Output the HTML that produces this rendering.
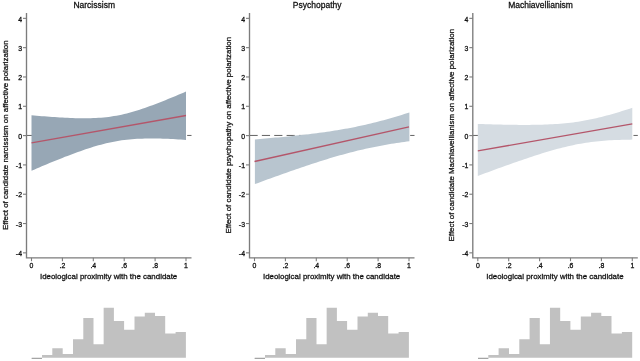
<!DOCTYPE html>
<html><head><meta charset="utf-8"><style>
html,body{margin:0;padding:0;background:#fff;width:640px;height:361px;overflow:hidden}
svg text{font-family:"Liberation Sans", sans-serif;fill:#111;stroke:#111;stroke-width:2.8px}
</style></head><body>
<svg width="640" height="361" viewBox="0 0 640 361" style="display:block;will-change:transform">
<rect width="640" height="361" fill="#fff"/>
<g transform="translate(0,0)">
<line x1="26.5" y1="135.45" x2="191.5" y2="135.45" stroke="#5a5a5a" stroke-width="0.95" stroke-dasharray="8.2 4.16"/>
<path d="M31.50,115.30 L34.08,115.52 L36.65,115.74 L39.23,115.95 L41.80,116.16 L44.38,116.36 L46.95,116.56 L49.52,116.75 L52.10,116.93 L54.67,117.10 L57.25,117.27 L59.83,117.43 L62.40,117.58 L64.97,117.71 L67.55,117.84 L70.12,117.95 L72.70,118.05 L75.28,118.13 L77.85,118.19 L80.42,118.24 L83.00,118.27 L85.57,118.27 L88.15,118.24 L90.72,118.19 L93.30,118.11 L95.88,118.00 L98.45,117.86 L101.03,117.67 L103.60,117.45 L106.17,117.18 L108.75,116.88 L111.33,116.52 L113.90,116.12 L116.48,115.67 L119.05,115.18 L121.62,114.64 L124.20,114.05 L126.78,113.42 L129.35,112.75 L131.93,112.03 L134.50,111.28 L137.07,110.50 L139.65,109.68 L142.22,108.83 L144.80,107.95 L147.38,107.04 L149.95,106.11 L152.53,105.17 L155.10,104.20 L157.68,103.21 L160.25,102.21 L162.82,101.19 L165.40,100.16 L167.97,99.12 L170.55,98.06 L173.12,97.00 L175.70,95.92 L178.28,94.84 L180.85,93.75 L183.42,92.65 L186.00,91.55 L186.00,139.95 L183.42,139.76 L180.85,139.58 L178.28,139.41 L175.70,139.25 L173.12,139.11 L170.55,138.97 L167.97,138.86 L165.40,138.75 L162.82,138.66 L160.25,138.59 L157.68,138.54 L155.10,138.50 L152.53,138.48 L149.95,138.48 L147.38,138.51 L144.80,138.56 L142.22,138.63 L139.65,138.73 L137.07,138.86 L134.50,139.02 L131.93,139.21 L129.35,139.44 L126.78,139.71 L124.20,140.01 L121.62,140.36 L119.05,140.75 L116.48,141.18 L113.90,141.65 L111.33,142.17 L108.75,142.72 L106.17,143.32 L103.60,143.96 L101.03,144.64 L98.45,145.35 L95.88,146.09 L93.30,146.87 L90.72,147.67 L88.15,148.50 L85.57,149.36 L83.00,150.23 L80.42,151.13 L77.85,152.05 L75.28,152.98 L72.70,153.93 L70.12,154.90 L67.55,155.88 L64.97,156.87 L62.40,157.88 L59.83,158.90 L57.25,159.93 L54.67,160.97 L52.10,162.02 L49.52,163.09 L46.95,164.16 L44.38,165.24 L41.80,166.34 L39.23,167.44 L36.65,168.55 L34.08,169.67 L31.50,170.80Z" fill="#97a7b5"/>
<line x1="31.5" y1="142.8" x2="186.0" y2="115.5" stroke="#b4566a" stroke-width="1.3"/>
<path d="M26.5,13.0 V257.85 H191.5" fill="none" stroke="#7c7c7c" stroke-width="1.35"/>
<line x1="23" y1="18.35" x2="26.5" y2="18.35" stroke="#7c7c7c" stroke-width="1.1"/>
<text transform="translate(22.00,21.55) scale(0.1000,0.1000)" text-anchor="end" font-size="69.0">4</text>
<line x1="23" y1="47.66" x2="26.5" y2="47.66" stroke="#7c7c7c" stroke-width="1.1"/>
<text transform="translate(22.00,50.86) scale(0.1000,0.1000)" text-anchor="end" font-size="69.0">3</text>
<line x1="23" y1="76.97" x2="26.5" y2="76.97" stroke="#7c7c7c" stroke-width="1.1"/>
<text transform="translate(22.00,80.17) scale(0.1000,0.1000)" text-anchor="end" font-size="69.0">2</text>
<line x1="23" y1="106.29" x2="26.5" y2="106.29" stroke="#7c7c7c" stroke-width="1.1"/>
<text transform="translate(22.00,109.49) scale(0.1000,0.1000)" text-anchor="end" font-size="69.0">1</text>
<line x1="23" y1="135.60" x2="26.5" y2="135.60" stroke="#7c7c7c" stroke-width="1.1"/>
<text transform="translate(22.00,138.80) scale(0.1000,0.1000)" text-anchor="end" font-size="69.0">0</text>
<line x1="23" y1="164.91" x2="26.5" y2="164.91" stroke="#7c7c7c" stroke-width="1.1"/>
<text transform="translate(22.00,168.11) scale(0.1000,0.1000)" text-anchor="end" font-size="69.0">-1</text>
<line x1="23" y1="194.22" x2="26.5" y2="194.22" stroke="#7c7c7c" stroke-width="1.1"/>
<text transform="translate(22.00,197.42) scale(0.1000,0.1000)" text-anchor="end" font-size="69.0">-2</text>
<line x1="23" y1="223.54" x2="26.5" y2="223.54" stroke="#7c7c7c" stroke-width="1.1"/>
<text transform="translate(22.00,226.74) scale(0.1000,0.1000)" text-anchor="end" font-size="69.0">-3</text>
<line x1="23" y1="252.85" x2="26.5" y2="252.85" stroke="#7c7c7c" stroke-width="1.1"/>
<text transform="translate(22.00,256.05) scale(0.1000,0.1000)" text-anchor="end" font-size="69.0">-4</text>
<line x1="31.50" y1="257.85" x2="31.50" y2="261.2" stroke="#7c7c7c" stroke-width="1.1"/>
<text transform="translate(31.50,267.80) scale(0.1000,0.1000)" text-anchor="middle" font-size="69.0">0</text>
<line x1="62.40" y1="257.85" x2="62.40" y2="261.2" stroke="#7c7c7c" stroke-width="1.1"/>
<text transform="translate(62.40,267.80) scale(0.1000,0.1000)" text-anchor="middle" font-size="69.0">.2</text>
<line x1="93.30" y1="257.85" x2="93.30" y2="261.2" stroke="#7c7c7c" stroke-width="1.1"/>
<text transform="translate(93.30,267.80) scale(0.1000,0.1000)" text-anchor="middle" font-size="69.0">.4</text>
<line x1="124.20" y1="257.85" x2="124.20" y2="261.2" stroke="#7c7c7c" stroke-width="1.1"/>
<text transform="translate(124.20,267.80) scale(0.1000,0.1000)" text-anchor="middle" font-size="69.0">.6</text>
<line x1="155.10" y1="257.85" x2="155.10" y2="261.2" stroke="#7c7c7c" stroke-width="1.1"/>
<text transform="translate(155.10,267.80) scale(0.1000,0.1000)" text-anchor="middle" font-size="69.0">.8</text>
<line x1="186.00" y1="257.85" x2="186.00" y2="261.2" stroke="#7c7c7c" stroke-width="1.1"/>
<text transform="translate(186.00,267.80) scale(0.1000,0.1000)" text-anchor="middle" font-size="69.0">1</text>
<text transform="translate(108.60,279.00) scale(0.1000,0.1000)" text-anchor="middle" font-size="79.0">Ideological proximity with the candidate</text>
<text transform="translate(8.00,135.20) rotate(-90) scale(0.1000,0.1000)" text-anchor="middle" font-size="79.0">Effect of candidate narcissism on affective polarization</text>
<text transform="translate(94.20,8.25) scale(0.1000,0.1000)" text-anchor="middle" font-size="85.0">Narcissism</text>
<path d="M31.7,358.8V357.8H42.0V358.8ZM42.0,357.8V354.9H52.3V357.8ZM52.3,357.8V348.2H62.7V357.8ZM62.7,357.8V354.1H73.0V357.8ZM73.0,357.8V339.2H83.3V357.8ZM83.3,357.8V318.1H93.5V357.8ZM93.5,357.8V344.3H103.65V357.8ZM103.65,357.8V307.8H113.9V357.8ZM113.9,357.8V321.1H124.1V357.8ZM124.1,357.8V329.7H134.5V357.8ZM134.5,357.8V316.4H144.8V357.8ZM144.8,357.8V312.7H155.0V357.8ZM155.0,357.8V316.0H165.2V357.8ZM165.2,357.8V333.4H175.6V357.8ZM175.6,357.8V331.9H185.9V357.8Z" fill="#c1c1c1"/>
<rect x="31.7" y="357.9" width="10.30" height="0.9" fill="#9a9a9a"/>
</g>
<g transform="translate(223.0,0)">
<line x1="26.5" y1="135.45" x2="191.5" y2="135.45" stroke="#5a5a5a" stroke-width="0.95" stroke-dasharray="8.2 4.16"/>
<path d="M31.90,139.40 L34.48,139.19 L37.05,138.97 L39.62,138.76 L42.20,138.54 L44.77,138.31 L47.35,138.09 L49.92,137.86 L52.50,137.62 L55.07,137.39 L57.65,137.14 L60.23,136.90 L62.80,136.65 L65.38,136.39 L67.95,136.13 L70.53,135.87 L73.10,135.60 L75.68,135.32 L78.25,135.04 L80.83,134.75 L83.40,134.45 L85.97,134.15 L88.55,133.84 L91.12,133.52 L93.70,133.19 L96.28,132.85 L98.85,132.50 L101.43,132.15 L104.00,131.78 L106.58,131.40 L109.15,131.01 L111.73,130.60 L114.30,130.19 L116.88,129.76 L119.45,129.32 L122.03,128.86 L124.60,128.39 L127.18,127.90 L129.75,127.40 L132.33,126.89 L134.90,126.35 L137.47,125.81 L140.05,125.24 L142.62,124.66 L145.20,124.06 L147.78,123.45 L150.35,122.82 L152.93,122.17 L155.50,121.51 L158.08,120.83 L160.65,120.14 L163.22,119.43 L165.80,118.71 L168.38,117.98 L170.95,117.23 L173.53,116.47 L176.10,115.70 L178.68,114.92 L181.25,114.12 L183.82,113.32 L186.40,112.50 L186.40,141.20 L183.82,141.55 L181.25,141.91 L178.68,142.27 L176.10,142.65 L173.53,143.04 L170.95,143.45 L168.38,143.86 L165.80,144.29 L163.22,144.74 L160.65,145.19 L158.08,145.66 L155.50,146.15 L152.93,146.65 L150.35,147.17 L147.78,147.70 L145.20,148.25 L142.62,148.82 L140.05,149.40 L137.47,150.00 L134.90,150.61 L132.33,151.24 L129.75,151.89 L127.18,152.55 L124.60,153.23 L122.03,153.92 L119.45,154.63 L116.88,155.35 L114.30,156.08 L111.73,156.83 L109.15,157.59 L106.58,158.36 L104.00,159.15 L101.43,159.94 L98.85,160.75 L96.28,161.57 L93.70,162.39 L91.12,163.23 L88.55,164.07 L85.97,164.92 L83.40,165.78 L80.83,166.65 L78.25,167.52 L75.68,168.40 L73.10,169.29 L70.53,170.18 L67.95,171.08 L65.38,171.98 L62.80,172.89 L60.23,173.81 L57.65,174.72 L55.07,175.64 L52.50,176.57 L49.92,177.50 L47.35,178.43 L44.77,179.37 L42.20,180.31 L39.62,181.25 L37.05,182.20 L34.48,183.15 L31.90,184.10Z" fill="#b8c5cf"/>
<line x1="31.5" y1="161.5" x2="186.0" y2="126.9" stroke="#b4566a" stroke-width="1.3"/>
<path d="M26.5,13.0 V257.85 H191.5" fill="none" stroke="#7c7c7c" stroke-width="1.35"/>
<line x1="23" y1="18.35" x2="26.5" y2="18.35" stroke="#7c7c7c" stroke-width="1.1"/>
<text transform="translate(22.00,21.55) scale(0.1000,0.1000)" text-anchor="end" font-size="69.0">4</text>
<line x1="23" y1="47.66" x2="26.5" y2="47.66" stroke="#7c7c7c" stroke-width="1.1"/>
<text transform="translate(22.00,50.86) scale(0.1000,0.1000)" text-anchor="end" font-size="69.0">3</text>
<line x1="23" y1="76.97" x2="26.5" y2="76.97" stroke="#7c7c7c" stroke-width="1.1"/>
<text transform="translate(22.00,80.17) scale(0.1000,0.1000)" text-anchor="end" font-size="69.0">2</text>
<line x1="23" y1="106.29" x2="26.5" y2="106.29" stroke="#7c7c7c" stroke-width="1.1"/>
<text transform="translate(22.00,109.49) scale(0.1000,0.1000)" text-anchor="end" font-size="69.0">1</text>
<line x1="23" y1="135.60" x2="26.5" y2="135.60" stroke="#7c7c7c" stroke-width="1.1"/>
<text transform="translate(22.00,138.80) scale(0.1000,0.1000)" text-anchor="end" font-size="69.0">0</text>
<line x1="23" y1="164.91" x2="26.5" y2="164.91" stroke="#7c7c7c" stroke-width="1.1"/>
<text transform="translate(22.00,168.11) scale(0.1000,0.1000)" text-anchor="end" font-size="69.0">-1</text>
<line x1="23" y1="194.22" x2="26.5" y2="194.22" stroke="#7c7c7c" stroke-width="1.1"/>
<text transform="translate(22.00,197.42) scale(0.1000,0.1000)" text-anchor="end" font-size="69.0">-2</text>
<line x1="23" y1="223.54" x2="26.5" y2="223.54" stroke="#7c7c7c" stroke-width="1.1"/>
<text transform="translate(22.00,226.74) scale(0.1000,0.1000)" text-anchor="end" font-size="69.0">-3</text>
<line x1="23" y1="252.85" x2="26.5" y2="252.85" stroke="#7c7c7c" stroke-width="1.1"/>
<text transform="translate(22.00,256.05) scale(0.1000,0.1000)" text-anchor="end" font-size="69.0">-4</text>
<line x1="31.50" y1="257.85" x2="31.50" y2="261.2" stroke="#7c7c7c" stroke-width="1.1"/>
<text transform="translate(31.50,267.80) scale(0.1000,0.1000)" text-anchor="middle" font-size="69.0">0</text>
<line x1="62.40" y1="257.85" x2="62.40" y2="261.2" stroke="#7c7c7c" stroke-width="1.1"/>
<text transform="translate(62.40,267.80) scale(0.1000,0.1000)" text-anchor="middle" font-size="69.0">.2</text>
<line x1="93.30" y1="257.85" x2="93.30" y2="261.2" stroke="#7c7c7c" stroke-width="1.1"/>
<text transform="translate(93.30,267.80) scale(0.1000,0.1000)" text-anchor="middle" font-size="69.0">.4</text>
<line x1="124.20" y1="257.85" x2="124.20" y2="261.2" stroke="#7c7c7c" stroke-width="1.1"/>
<text transform="translate(124.20,267.80) scale(0.1000,0.1000)" text-anchor="middle" font-size="69.0">.6</text>
<line x1="155.10" y1="257.85" x2="155.10" y2="261.2" stroke="#7c7c7c" stroke-width="1.1"/>
<text transform="translate(155.10,267.80) scale(0.1000,0.1000)" text-anchor="middle" font-size="69.0">.8</text>
<line x1="186.00" y1="257.85" x2="186.00" y2="261.2" stroke="#7c7c7c" stroke-width="1.1"/>
<text transform="translate(186.00,267.80) scale(0.1000,0.1000)" text-anchor="middle" font-size="69.0">1</text>
<text transform="translate(108.60,279.00) scale(0.1000,0.1000)" text-anchor="middle" font-size="79.0">Ideological proximity with the candidate</text>
<text transform="translate(8.00,135.20) rotate(-90) scale(0.1000,0.1000)" text-anchor="middle" font-size="79.0">Effect of candidate psychopathy on affective polarization</text>
<text transform="translate(94.20,8.25) scale(0.1000,0.1000)" text-anchor="middle" font-size="85.0">Psychopathy</text>
<path d="M31.7,358.8V357.8H42.0V358.8ZM42.0,357.8V354.9H52.3V357.8ZM52.3,357.8V348.2H62.7V357.8ZM62.7,357.8V354.1H73.0V357.8ZM73.0,357.8V339.2H83.3V357.8ZM83.3,357.8V318.1H93.5V357.8ZM93.5,357.8V344.3H103.65V357.8ZM103.65,357.8V307.8H113.9V357.8ZM113.9,357.8V321.1H124.1V357.8ZM124.1,357.8V329.7H134.5V357.8ZM134.5,357.8V316.4H144.8V357.8ZM144.8,357.8V312.7H155.0V357.8ZM155.0,357.8V316.0H165.2V357.8ZM165.2,357.8V333.4H175.6V357.8ZM175.6,357.8V331.9H185.9V357.8Z" fill="#c1c1c1"/>
<rect x="31.7" y="357.9" width="10.30" height="0.9" fill="#9a9a9a"/>
</g>
<g transform="translate(446.3,0)">
<line x1="26.5" y1="135.45" x2="191.5" y2="135.45" stroke="#5a5a5a" stroke-width="0.95" stroke-dasharray="8.2 4.16"/>
<path d="M31.50,123.95 L34.08,124.04 L36.65,124.12 L39.23,124.20 L41.80,124.27 L44.38,124.35 L46.95,124.42 L49.52,124.48 L52.10,124.55 L54.67,124.60 L57.25,124.66 L59.83,124.71 L62.40,124.75 L64.97,124.79 L67.55,124.83 L70.12,124.85 L72.70,124.88 L75.28,124.89 L77.85,124.90 L80.42,124.89 L83.00,124.88 L85.57,124.86 L88.15,124.83 L90.72,124.79 L93.30,124.74 L95.88,124.67 L98.45,124.59 L101.03,124.49 L103.60,124.37 L106.17,124.24 L108.75,124.09 L111.33,123.92 L113.90,123.73 L116.48,123.51 L119.05,123.27 L121.62,123.01 L124.20,122.72 L126.78,122.40 L129.35,122.05 L131.93,121.67 L134.50,121.26 L137.07,120.82 L139.65,120.36 L142.22,119.86 L144.80,119.33 L147.38,118.78 L149.95,118.19 L152.53,117.59 L155.10,116.95 L157.68,116.29 L160.25,115.61 L162.82,114.90 L165.40,114.18 L167.97,113.44 L170.55,112.68 L173.12,111.90 L175.70,111.10 L178.28,110.30 L180.85,109.48 L183.42,108.64 L186.00,107.80 L186.00,139.60 L183.42,139.63 L180.85,139.67 L178.28,139.73 L175.70,139.80 L173.12,139.88 L170.55,139.97 L167.97,140.09 L165.40,140.22 L162.82,140.37 L160.25,140.54 L157.68,140.73 L155.10,140.95 L152.53,141.19 L149.95,141.46 L147.38,141.75 L144.80,142.07 L142.22,142.42 L139.65,142.79 L137.07,143.20 L134.50,143.64 L131.93,144.11 L129.35,144.60 L126.78,145.13 L124.20,145.68 L121.62,146.27 L119.05,146.88 L116.48,147.51 L113.90,148.17 L111.33,148.85 L108.75,149.56 L106.17,150.28 L103.60,151.03 L101.03,151.79 L98.45,152.56 L95.88,153.36 L93.30,154.16 L90.72,154.99 L88.15,155.82 L85.57,156.66 L83.00,157.52 L80.42,158.38 L77.85,159.25 L75.28,160.14 L72.70,161.02 L70.12,161.92 L67.55,162.82 L64.97,163.73 L62.40,164.65 L59.83,165.57 L57.25,166.49 L54.67,167.42 L52.10,168.35 L49.52,169.29 L46.95,170.23 L44.38,171.18 L41.80,172.13 L39.23,173.08 L36.65,174.03 L34.08,174.99 L31.50,175.95Z" fill="#d5dce2"/>
<line x1="31.5" y1="150.9" x2="186.0" y2="123.9" stroke="#b4566a" stroke-width="1.3"/>
<path d="M26.5,13.0 V257.85 H191.5" fill="none" stroke="#7c7c7c" stroke-width="1.35"/>
<line x1="23" y1="18.35" x2="26.5" y2="18.35" stroke="#7c7c7c" stroke-width="1.1"/>
<text transform="translate(22.00,21.55) scale(0.1000,0.1000)" text-anchor="end" font-size="69.0">4</text>
<line x1="23" y1="47.66" x2="26.5" y2="47.66" stroke="#7c7c7c" stroke-width="1.1"/>
<text transform="translate(22.00,50.86) scale(0.1000,0.1000)" text-anchor="end" font-size="69.0">3</text>
<line x1="23" y1="76.97" x2="26.5" y2="76.97" stroke="#7c7c7c" stroke-width="1.1"/>
<text transform="translate(22.00,80.17) scale(0.1000,0.1000)" text-anchor="end" font-size="69.0">2</text>
<line x1="23" y1="106.29" x2="26.5" y2="106.29" stroke="#7c7c7c" stroke-width="1.1"/>
<text transform="translate(22.00,109.49) scale(0.1000,0.1000)" text-anchor="end" font-size="69.0">1</text>
<line x1="23" y1="135.60" x2="26.5" y2="135.60" stroke="#7c7c7c" stroke-width="1.1"/>
<text transform="translate(22.00,138.80) scale(0.1000,0.1000)" text-anchor="end" font-size="69.0">0</text>
<line x1="23" y1="164.91" x2="26.5" y2="164.91" stroke="#7c7c7c" stroke-width="1.1"/>
<text transform="translate(22.00,168.11) scale(0.1000,0.1000)" text-anchor="end" font-size="69.0">-1</text>
<line x1="23" y1="194.22" x2="26.5" y2="194.22" stroke="#7c7c7c" stroke-width="1.1"/>
<text transform="translate(22.00,197.42) scale(0.1000,0.1000)" text-anchor="end" font-size="69.0">-2</text>
<line x1="23" y1="223.54" x2="26.5" y2="223.54" stroke="#7c7c7c" stroke-width="1.1"/>
<text transform="translate(22.00,226.74) scale(0.1000,0.1000)" text-anchor="end" font-size="69.0">-3</text>
<line x1="23" y1="252.85" x2="26.5" y2="252.85" stroke="#7c7c7c" stroke-width="1.1"/>
<text transform="translate(22.00,256.05) scale(0.1000,0.1000)" text-anchor="end" font-size="69.0">-4</text>
<line x1="31.50" y1="257.85" x2="31.50" y2="261.2" stroke="#7c7c7c" stroke-width="1.1"/>
<text transform="translate(31.50,267.80) scale(0.1000,0.1000)" text-anchor="middle" font-size="69.0">0</text>
<line x1="62.40" y1="257.85" x2="62.40" y2="261.2" stroke="#7c7c7c" stroke-width="1.1"/>
<text transform="translate(62.40,267.80) scale(0.1000,0.1000)" text-anchor="middle" font-size="69.0">.2</text>
<line x1="93.30" y1="257.85" x2="93.30" y2="261.2" stroke="#7c7c7c" stroke-width="1.1"/>
<text transform="translate(93.30,267.80) scale(0.1000,0.1000)" text-anchor="middle" font-size="69.0">.4</text>
<line x1="124.20" y1="257.85" x2="124.20" y2="261.2" stroke="#7c7c7c" stroke-width="1.1"/>
<text transform="translate(124.20,267.80) scale(0.1000,0.1000)" text-anchor="middle" font-size="69.0">.6</text>
<line x1="155.10" y1="257.85" x2="155.10" y2="261.2" stroke="#7c7c7c" stroke-width="1.1"/>
<text transform="translate(155.10,267.80) scale(0.1000,0.1000)" text-anchor="middle" font-size="69.0">.8</text>
<line x1="186.00" y1="257.85" x2="186.00" y2="261.2" stroke="#7c7c7c" stroke-width="1.1"/>
<text transform="translate(186.00,267.80) scale(0.1000,0.1000)" text-anchor="middle" font-size="69.0">1</text>
<text transform="translate(108.60,279.00) scale(0.1000,0.1000)" text-anchor="middle" font-size="79.0">Ideological proximity with the candidate</text>
<text transform="translate(8.00,135.20) rotate(-90) scale(0.1000,0.1000)" text-anchor="middle" font-size="79.0">Effect of candidate Machiavellianism on affective polarization</text>
<text transform="translate(94.20,8.25) scale(0.1000,0.1000)" text-anchor="middle" font-size="85.0">Machiavellianism</text>
<path d="M31.7,358.8V357.8H42.0V358.8ZM42.0,357.8V354.9H52.3V357.8ZM52.3,357.8V348.2H62.7V357.8ZM62.7,357.8V354.1H73.0V357.8ZM73.0,357.8V339.2H83.3V357.8ZM83.3,357.8V318.1H93.5V357.8ZM93.5,357.8V344.3H103.65V357.8ZM103.65,357.8V307.8H113.9V357.8ZM113.9,357.8V321.1H124.1V357.8ZM124.1,357.8V329.7H134.5V357.8ZM134.5,357.8V316.4H144.8V357.8ZM144.8,357.8V312.7H155.0V357.8ZM155.0,357.8V316.0H165.2V357.8ZM165.2,357.8V333.4H175.6V357.8ZM175.6,357.8V331.9H185.9V357.8Z" fill="#c1c1c1"/>
<rect x="31.7" y="357.9" width="10.30" height="0.9" fill="#9a9a9a"/>
</g>
</svg>
</body></html>
